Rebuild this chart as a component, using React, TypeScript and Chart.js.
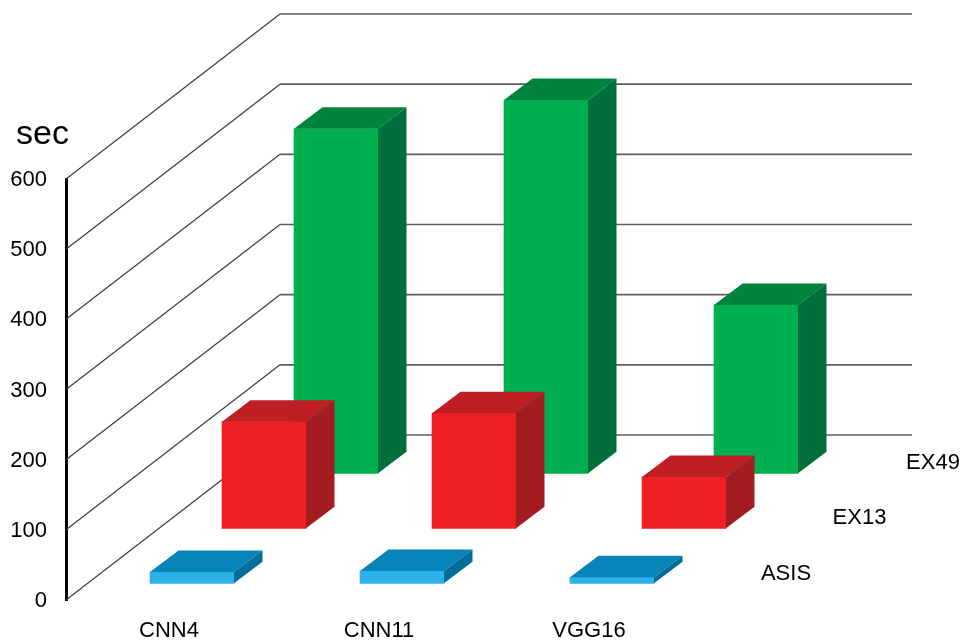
import React, { useEffect, useRef } from "react";
import { Chart, registerables } from "chart.js";

Chart.register(...registerables);

const categories = ["CNN4", "CNN11", "VGG16"];
const seriesNames = ["ASIS", "EX13", "EX49"];
const asisSeconds = [16, 17.5, 8.5];
const ex13Seconds = [152, 164, 73];
const ex49Seconds = [491, 532, 240];
const yTicks = [0, 100, 200, 300, 400, 500, 600];

const faceColors = ["#2CB0E8", "#ED2024", "#00B050"];
const topColors = ["#0784B8", "#BE1E24", "#00843D"];
const sideColors = ["#006E9A", "#A21C20", "#006F3C"];

const FONT = '"Liberation Sans", Arial, sans-serif';
const LABEL_SIZE = 22;

// Each series sits on its own row of the floor; the bars are shifted to that row.
const rowShift = [
  { x: 21, y: -16.7 },
  { x: 93, y: -71.7 },
  { x: 165, y: -126.7 },
];
// Extent of a bar's top and side faces.
const barDepth = { x: 28.5, y: -21.5 };
// Offset from the front of the floor to the back wall.
const wallDepth = { x: 214, y: -165 };

const threeDPlugin = {
  id: "threeD",
  beforeDatasetsDraw(chart: any) {
    const { ctx, chartArea, scales } = chart;
    ctx.save();
    for (const tick of yTicks) {
      const y = scales.y.getPixelForValue(tick);
      const wallX = chartArea.left + wallDepth.x;
      const wallY = y + wallDepth.y;
      ctx.strokeStyle = "#3C3C3C";
      ctx.lineWidth = 1.2;
      ctx.beginPath();
      ctx.moveTo(chartArea.left, y);
      ctx.lineTo(wallX, wallY);
      ctx.stroke();
      ctx.strokeStyle = "#5E5E5E";
      ctx.lineWidth = 1.6;
      ctx.beginPath();
      ctx.moveTo(wallX, wallY);
      ctx.lineTo(wallX + (chartArea.right - chartArea.left) + 2, wallY);
      ctx.stroke();
    }
    ctx.restore();
  },
  beforeDatasetDraw(chart: any, args: any) {
    const shift = rowShift[args.index];
    chart.ctx.save();
    chart.ctx.translate(shift.x, shift.y);
  },
  afterDatasetDraw(chart: any, args: any) {
    const { ctx } = chart;
    for (const bar of chart.getDatasetMeta(args.index).data) {
      const { x, y, base, width } = bar.getProps(["x", "y", "base", "width"], true);
      const left = x - width / 2;
      const right = x + width / 2;
      ctx.fillStyle = topColors[args.index];
      ctx.beginPath();
      ctx.moveTo(left, y);
      ctx.lineTo(left + barDepth.x, y + barDepth.y);
      ctx.lineTo(right + barDepth.x, y + barDepth.y);
      ctx.lineTo(right, y);
      ctx.closePath();
      ctx.fill();
      ctx.fillStyle = sideColors[args.index];
      ctx.beginPath();
      ctx.moveTo(right, y);
      ctx.lineTo(right + barDepth.x, y + barDepth.y);
      ctx.lineTo(right + barDepth.x, base + barDepth.y);
      ctx.lineTo(right, base);
      ctx.closePath();
      ctx.fill();
    }
    ctx.restore();
  },
  afterDraw(chart: any) {
    const { ctx, chartArea } = chart;
    ctx.save();
    ctx.fillStyle = "#000000";
    ctx.textBaseline = "middle";
    ctx.textAlign = "center";
    ctx.font = `${LABEL_SIZE}px ${FONT}`;
    seriesNames.forEach((name, i) => {
      ctx.fillText(name, chartArea.right + 90 + i * 73.5, 573.5 - i * 55.5);
    });
    ctx.textAlign = "left";
    ctx.textBaseline = "alphabetic";
    ctx.font = `34px ${FONT}`;
    ctx.fillText("sec", 16, 144);
    ctx.restore();
  },
};

export default function App() {
  const canvasRef = useRef<HTMLCanvasElement>(null);

  useEffect(() => {
    const seriesValues = [asisSeconds, ex13Seconds, ex49Seconds];
    const chart = new Chart(canvasRef.current as HTMLCanvasElement, {
      type: "bar",
      data: {
        labels: categories,
        datasets: seriesNames.map((label, i) => ({
          label,
          data: seriesValues[i],
          backgroundColor: faceColors[i],
          barThickness: 84,
          grouped: false,
          clip: false,
        })),
      },
      options: {
        animation: false,
        responsive: false,
        events: [],
        layout: { padding: { top: 179, left: 0, right: 265, bottom: 0 } },
        plugins: { legend: { display: false }, tooltip: { enabled: false } },
        scales: {
          x: {
            grid: { display: false, drawTicks: false },
            border: { display: false },
            afterFit(scale: any) {
              scale.height = 42;
            },
            ticks: {
              color: "#000000",
              font: { family: FONT, size: LABEL_SIZE },
              padding: 18,
              labelOffset: -2,
              maxRotation: 0,
            },
          },
          y: {
            min: 0,
            max: 600,
            afterFit(scale: any) {
              scale.width = 66;
            },
            grid: { display: false, drawTicks: false },
            border: { display: true, color: "#000000", width: 3 },
            ticks: {
              stepSize: 100,
              color: "#000000",
              font: { family: FONT, size: LABEL_SIZE },
              padding: 19,
              labelOffset: 1,
            },
          },
        },
      },
      plugins: [threeDPlugin],
    } as any);
    return () => chart.destroy();
  }, []);

  return (
    <div style={{ position: "absolute", left: 0, top: 0 }}>
      <canvas ref={canvasRef} width={961} height={642} style={{ display: "block" }} />
    </div>
  );
}
